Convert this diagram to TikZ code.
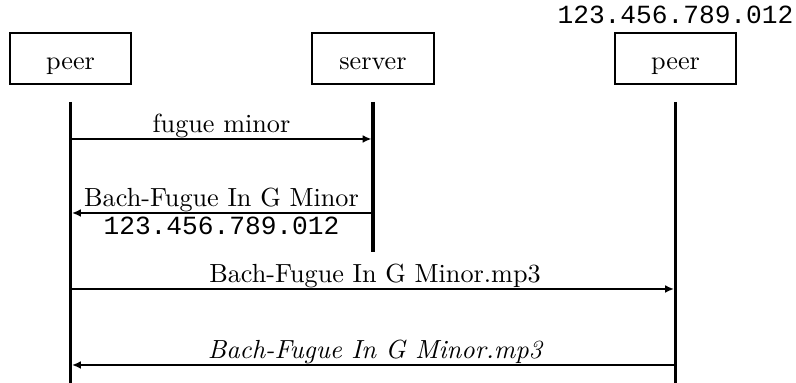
\documentclass[tikz,border=0pt]{standalone}
\usepackage{fontspec}
\setmonofont{Liberation Mono}
\usetikzlibrary{arrows.meta}

\tikzset{
  actor/.style={draw, line width=0.76pt, minimum width=46.2pt, minimum height=19.4pt,
    inner sep=0pt, text height=8.2pt, text depth=0pt},
  lifeline/.style={line width=1.15pt},
  message/.style={line width=0.76pt, -{Latex[length=3.4pt,width=3pt]}, shorten >=0.55pt},
  label/.style={anchor=base, inner sep=0pt}
}

\begin{document}
\begin{tikzpicture}[x=0.3817pt, y=-0.3817pt]
  \useasboundingbox (0,0) rectangle (796,383);

  % participants
  \node[actor] (peerA)  at (70.5,58.5)  {peer};
  \node[actor] (server) at (373,58.5)   {server};
  \node[actor] (peerB)  at (675.5,58.5) {peer};
  \node[label] (addrB) at (675.5,24) {\ttfamily 123.456.789.012};

  % lifelines
  \coordinate (peerA-top)  at (70.5,102);
  \coordinate (peerA-end)  at (70.5,383);
  \coordinate (server-top) at (373,102);
  \coordinate (server-end) at (373,252);
  \coordinate (peerB-top)  at (675.5,102);
  \coordinate (peerB-end)  at (675.5,383);
  \draw[lifeline] (peerA-top) -- (peerA-end);
  \draw[lifeline] (server-top) -- (server-end);
  \draw[lifeline] (peerB-top) -- (peerB-end);

  % message end points
  \coordinate (a1) at (70.5,139);  \coordinate (s1) at (373,139);
  \coordinate (a2) at (70.5,213);  \coordinate (s2) at (373,213);
  \coordinate (a3) at (70.5,289);  \coordinate (b3) at (675.5,289);
  \coordinate (a4) at (70.5,365);  \coordinate (b4) at (675.5,365);

  % query
  \draw[message] (a1) -- (s1);
  \node[label] (q) at (221.5,133) {fugue minor};

  % reply from the server
  \draw[message] (s2) -- (a2);
  \node[label] (r1) at (221.5,207) {Bach-Fugue In G Minor};
  \node[label] (r2) at (221.5,235) {\ttfamily 123.456.789.012};

  % request to the other peer
  \draw[message] (a3) -- (b3);
  \node[label] (f1) at (375,283) {Bach-Fugue In G Minor.mp3};

  % file transfer back
  \draw[message] (b4) -- (a4);
  \node[label] (f2) at (375,359) {\itshape Bach-Fugue In G Minor.mp3};
\end{tikzpicture}
\end{document}
